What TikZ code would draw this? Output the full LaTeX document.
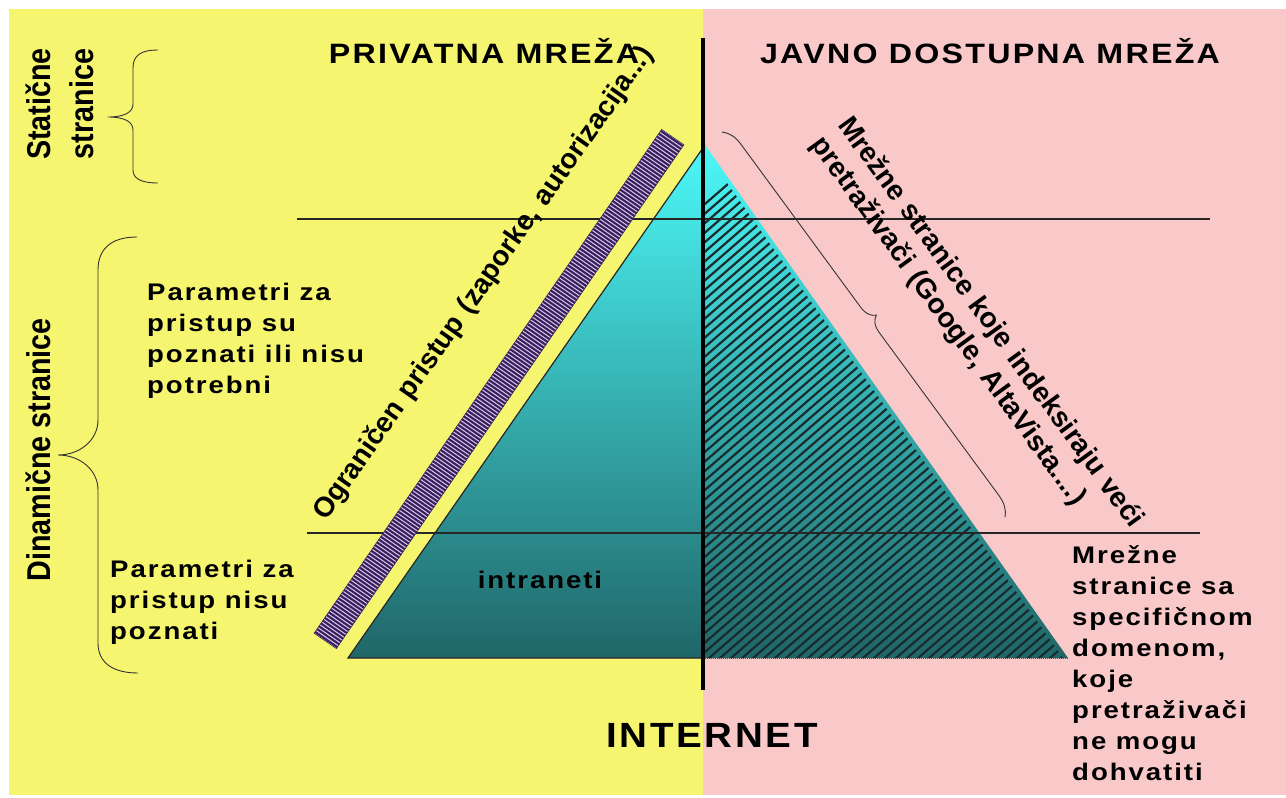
\documentclass[tikz,border=0pt]{standalone}
\usepackage{fontspec}
\setmainfont{Liberation Sans}
\newfontfamily\trk{Liberation Sans}[LetterSpace=7]
\newfontfamily\plainsans{Liberation Sans}
\newcommand\wlines[2][1.15]{\scalebox{#1}[1]{\begin{tabular}[t]{@{}l@{}}#2\end{tabular}}}
\newcommand\wide[2][1.15]{\scalebox{#1}[1]{#2}}
\definecolor{bgy}{RGB}{245,245,112}
\definecolor{bgp}{RGB}{249,201,201}
\definecolor{triTop}{RGB}{76,248,248}
\definecolor{triMid}{RGB}{56,180,182}
\definecolor{triBot}{RGB}{32,102,104}
\definecolor{barLight}{RGB}{214,200,240}
\definecolor{barDark}{RGB}{58,32,90}
\definecolor{hatchc}{RGB}{24,44,46}
\tikzset{
  para/.style={font=\trk\bfseries\fontsize{24}{31}\selectfont, inner sep=0pt, anchor=base west},
  lab/.style={font=\trk\bfseries\fontsize{24}{31}\selectfont, inner sep=0pt, anchor=base},
  title/.style={font=\trk\bfseries\fontsize{28}{34}\selectfont, inner sep=0pt, anchor=base},
  big/.style={font=\trk\bfseries\fontsize{35}{40}\selectfont, inner sep=0pt, anchor=base},
  rot/.style={font=\plainsans\bfseries\fontsize{28}{33}\selectfont, inner sep=0pt, anchor=base west, align=left, text width=620pt},
  cond/.style={font=\plainsans\bfseries\fontsize{33}{40}\selectfont, inner sep=0pt, anchor=base, rotate=90},
  bracel/.style={draw=black!80, line width=0.9pt},
  thinline/.style={draw=black!85, line width=1.2pt},
  divider/.style={draw=black, line width=4pt},
  hatch/.style={draw=hatchc, line width=2.2pt},
  baredge/.style={draw=barDark, line width=0.6pt},
  barstripe/.style={draw=barDark, line width=2.1pt},
}
\begin{document}
\begin{tikzpicture}[x=1pt,y=-1pt]
\useasboundingbox (0,0) rectangle (1286,798);
% backgrounds
\fill[bgy] (9,9) rectangle (703,795);
\fill[bgp] (703,9) rectangle (1286,795);
% triangle
\coordinate (A) at (705,145);
\coordinate (BL) at (348,658);
\coordinate (BR) at (1068,658);
\coordinate (BM) at (703,658);
\shade[top color=triTop, middle color=triMid, bottom color=triBot] (A) -- (BL) -- (BR) -- cycle;
\begin{scope}
  \clip (703,149) -- (1063,658) -- (703,658) -- cycle;
  \foreach \i in {-530,-519,...,370} \draw[hatch] (703+\i,665) -- ++(600,-520);
\end{scope}
\draw[draw=black!85, line width=1.2pt] (A) -- (BL) -- (BM);
\draw[draw=black!70, line width=1pt, densely dotted] (BM) -- (BR);
% horizontal lines
\coordinate (h1a) at (297,219); \coordinate (h1b) at (1210,219);
\coordinate (h2a) at (307,533); \coordinate (h2b) at (1200,533);
\draw[thinline] (h1a) -- (h1b);
\draw[thinline] (h2a) -- (h2b);
% striped bar
\begin{scope}[shift={(499,389)}, rotate=55.4]
  \fill[barLight] (-306,-13.5) rectangle (306,13.5);
  \foreach \u in {-304.3,-300.9,...,305} \draw[barstripe] (\u,-13.5) -- (\u,13.5);
  \draw[baredge] (-306,-13.5) rectangle (306,13.5);
\end{scope}
% divider
\coordinate (dtop) at (703,38); \coordinate (dbot) at (703,690);
\draw[divider] (dtop) -- (dbot);
% braces
\draw[bracel] (158,50) .. controls (140,50) and (133,56) .. (133,68) -- (133,104)
  .. controls (133,112) and (125,117) .. (108,117)
  .. controls (125,117) and (133,122) .. (133,130) -- (133,170)
  .. controls (133,178) and (140,183) .. (158,183);
\draw[bracel] (137,237) .. controls (110,237) and (98,250) .. (98,270) -- (98,420)
  .. controls (98,440) and (80,455) .. (58,455)
  .. controls (80,455) and (98,470) .. (98,490) -- (98,643)
  .. controls (98,662) and (112,673) .. (138,673);
\begin{scope}[shift={(722,132)}, rotate=-53.7]
  \draw[bracel] (0,0) .. controls (6,-6) and (12,-8) .. (22,-8) -- (223,-8)
    .. controls (233,-8) and (237,-12) .. (239,-16)
    .. controls (241,-12) and (245,-8) .. (255,-8) -- (456,-8)
    .. controls (466,-8) and (472,-6) .. (478,0);
\end{scope}
% texts
\node[title] (tpriv) at (484,63) {\wide{PRIVATNA MREŽA}};
\node[title] (tjav) at (990,63) {\wide{JAVNO DOSTUPNA MREŽA}};
\node[cond] (stat1) at (50,104) {\scalebox{0.87}[1]{Statične}};
\node[cond] (stat2) at (93,104) {\scalebox{0.87}[1]{stranice}};
\node[cond] (dyn) at (50,450) {\scalebox{0.87}[1]{Dinamične stranice}};
\node[para] (pknown) at (147,300) {\wlines{Parametri za\\pristup su\\poznati ili nisu\\potrebni}};
\node[para] (punknown) at (110,577) {\wlines{Parametri za\\pristup nisu\\poznati}};
\node[lab] (intra) at (540,588) {\wide{intraneti}};
\node[big] (inet) at (712,747) {\wide[1.1]{INTERNET}};
\node[para] (spec) at (1072,563) {\wlines{Mrežne\\stranice sa\\specifičnom\\domenom,\\koje\\pretraživači\\ne mogu\\dohvatiti}};
\node[rot, rotate=55] (ogr) at (326,522) {Ograničen pristup (zaporke, autorizacija...)};
\node[rot, rotate=-54] (mrez) at (837,125) {Mrežne stranice koje indeksiraju veći\\pretraživači (Google, AltaVista....)};
\end{tikzpicture}
\end{document}
